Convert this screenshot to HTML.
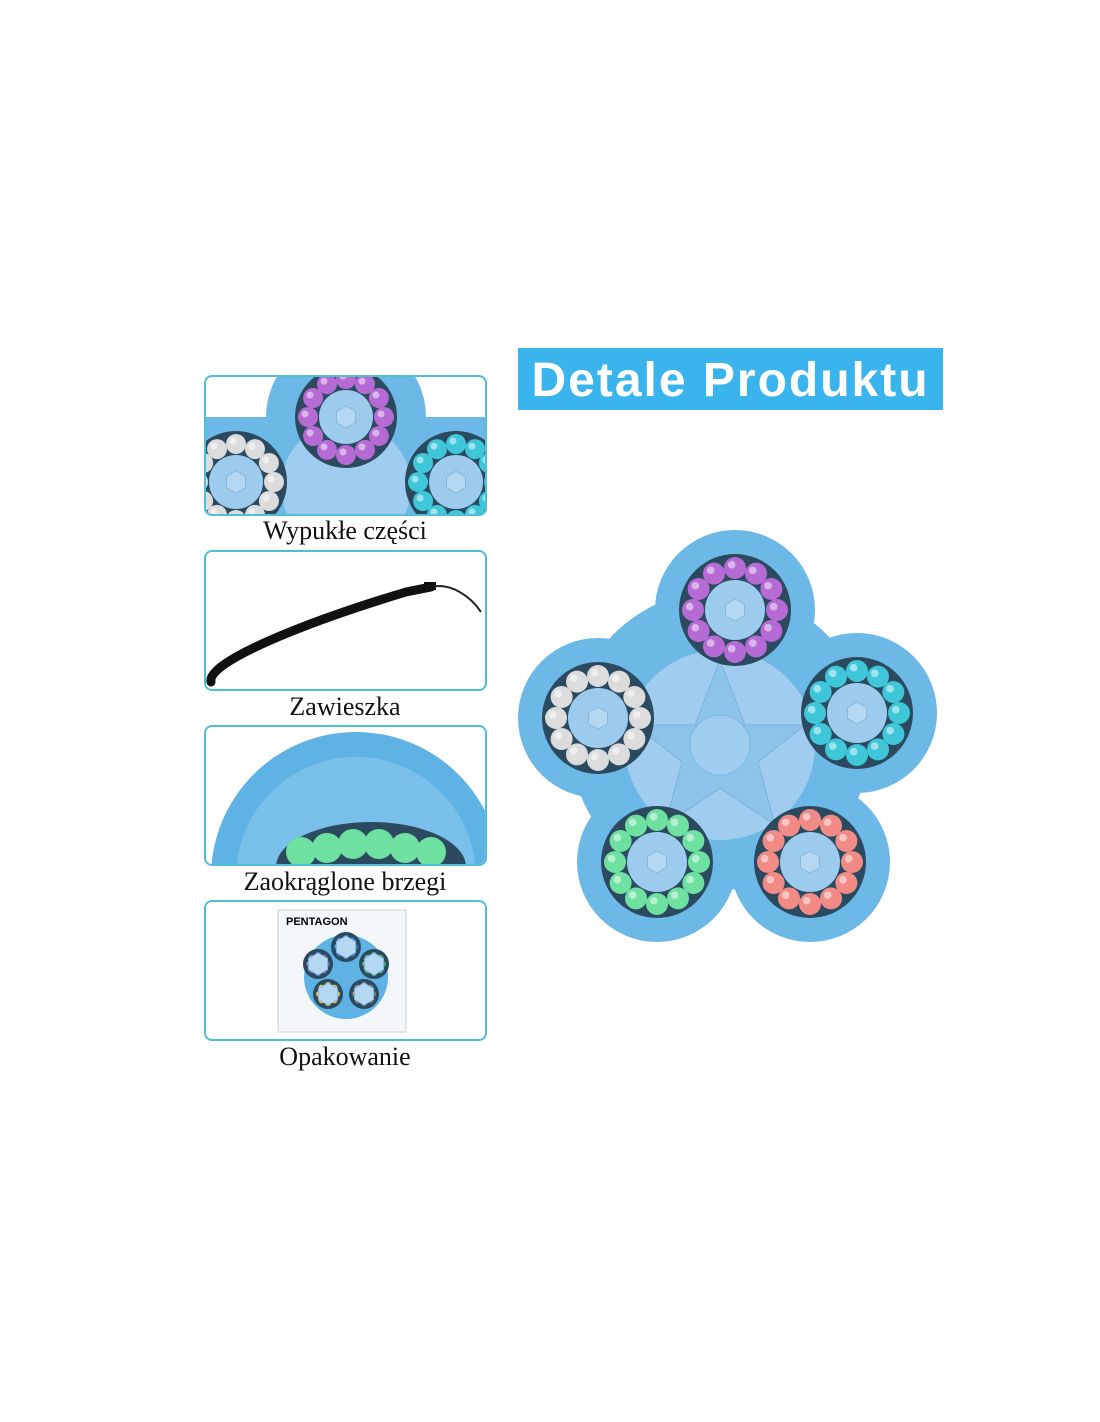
<!DOCTYPE html>
<html><head><meta charset="utf-8"><style>
body{margin:0;width:1100px;height:1422px;background:#fff;position:relative;overflow:hidden}
.title{position:absolute;left:518px;top:348px;width:425px;height:62px;background:#3ab4ec;color:#fff;font:bold 48px "Liberation Sans",sans-serif;text-align:center;line-height:66px;letter-spacing:2px}
.panel{position:absolute;left:204px;width:279px;height:137px;border:2px solid #4fbfd4;border-radius:8px;overflow:hidden;background:#fff}
.lbl{position:absolute;left:180px;width:330px;text-align:center;font:26px "Liberation Serif",serif;color:#111}
svg{position:absolute;left:0;top:0}
</style></head><body>
<div class="title">Detale Produktu</div>

<div class="panel" style="top:375px"><svg id="p1" width="279" height="137"></svg></div>
<div class="lbl" style="top:516px">Wypukłe części</div>
<div class="panel" style="top:550px"><svg width="279" height="137"><path d="M5 130 C0 110,100 70,200 40 L225 35" stroke="#111" stroke-width="9" fill="none" stroke-linecap="round"/><path d="M225 35 C245 30,265 45,275 60" stroke="#222" stroke-width="2" fill="none"/><rect x="218" y="30" width="12" height="8" fill="#111"/></svg></div>
<div class="lbl" style="top:692px">Zawieszka</div>
<div class="panel" style="top:725px"><svg id="p3" width="279" height="137"></svg></div>
<div class="lbl" style="top:867px">Zaokrąglone brzegi</div>
<div class="panel" style="top:900px"><svg id="p4" width="279" height="137"></svg></div>
<div class="lbl" style="top:1042px">Opakowanie</div>

<svg id="main" width="1100" height="1422" style="pointer-events:none"></svg>
<script>
const NS="http://www.w3.org/2000/svg";
function el(p,t,a){const e=document.createElementNS(NS,t);for(const k in a)e.setAttribute(k,a[k]);p.appendChild(e);return e}
function wheel(s,cx,cy,R,col,n,br,outer){
 if(outer) el(s,"circle",{cx,cy,r:outer,fill:"#6cb8e6"});
 el(s,"circle",{cx,cy,r:R+br+3,fill:"#2b4a60"});
 for(let i=0;i<n;i++){const a=i/n*2*Math.PI;el(s,"circle",{cx:cx+R*Math.cos(a),cy:cy+R*Math.sin(a),r:br,fill:col});
  el(s,"circle",{cx:cx+R*Math.cos(a)-br*.3,cy:cy+R*Math.sin(a)-br*.3,r:br*.35,fill:"#fff",opacity:.5});}
 el(s,"circle",{cx,cy,r:R-br-1,fill:"#9ccbed"});
 el(s,"polygon",{points:[0,1,2,3,4,5].map(i=>{const a=i*Math.PI/3+Math.PI/6;return (cx+11*Math.cos(a))+","+(cy+11*Math.sin(a))}).join(" "),fill:"#b5d8f2",stroke:"#86b8dc"});
}
const m=document.getElementById("main");
el(m,"circle",{cx:720,cy:740,r:150,fill:"#6cb8e6"});
const L=[[735,610,"#b66bd4"],[598,718,"#dcdcdc"],[857,713,"#3fc6d8"],[657,862,"#6ee0a0"],[810,862,"#f28a86"]];
L.forEach(l=>el(m,"circle",{cx:l[0],cy:l[1],r:80,fill:"#6cb8e6"}));
el(m,"circle",{cx:720,cy:745,r:95,fill:"#a0cdef"});
el(m,"polygon",{points:"720,660 745,725 805,725 758,762 775,825 720,788 665,825 682,762 635,725 695,725",fill:"#8ec3ea",stroke:"#7ab2dc"});
el(m,"circle",{cx:720,cy:745,r:30,fill:"#9fcdef",stroke:"#80b8e0"});
L.forEach(l=>wheel(m,l[0],l[1],42,l[2],12,11));
const p1=document.getElementById("p1");
el(p1,"rect",{x:0,y:40,width:279,height:97,fill:"#6cb8e6"});
el(p1,"circle",{cx:140,cy:40,r:80,fill:"#6cb8e6"});
el(p1,"circle",{cx:140,cy:110,r:65,fill:"#a0cdef"});
wheel(p1,140,40,38,"#b66bd4",12,10);
wheel(p1,30,105,38,"#dcdcdc",12,10);
wheel(p1,250,105,38,"#3fc6d8",12,10);
const p3=document.getElementById("p3");
el(p3,"circle",{cx:150,cy:150,r:145,fill:"#5fb2e4"});
el(p3,"circle",{cx:150,cy:150,r:120,fill:"#78c0ea"});
el(p3,"ellipse",{cx:165,cy:140,rx:95,ry:45,fill:"#2b4a60"});
for(let i=0;i<6;i++)el(p3,"circle",{cx:95+i*26,cy:115+Math.abs(i-2.5)*4,r:15,fill:"#6ee0a0"});
const p4=document.getElementById("p4");
el(p4,"rect",{x:72,y:8,width:128,height:122,fill:"#f4f7fa",stroke:"#ccc"});
el(p4,"text",{x:80,y:23,"font-size":11,"font-weight":"bold","font-family":"Liberation Sans"}).textContent="PENTAGON";
el(p4,"circle",{cx:140,cy:75,r:42,fill:"#5fb2e4"});
[[140,45],[112,62],[168,62],[122,92],[158,92]].forEach((c,i)=>wheel(p4,c[0],c[1],9,["#3a7bd5","#7060c0","#3fb070","#e8c040","#777"][i],8,3));
</script>
</body></html>
